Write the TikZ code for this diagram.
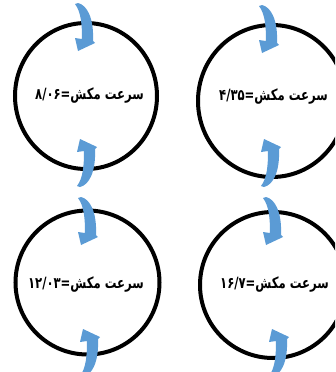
\documentclass[tikz,border=0pt]{standalone}
\usepackage{fontspec}
\newfontfamily\arabicfont[Script=Arabic]{DejaVu Sans}
\TeXXeTstate=1
\definecolor{arrowblue}{RGB}{91,155,213}
\tikzset{
  ring/.style={draw=black, line width=4pt},
  label/.style={font=\arabicfont\bfseries\fontsize{15.5}{17}\selectfont, inner sep=0pt, anchor=east, xscale=0.75, transform shape},
  curvarrow/.pic={
    \fill[arrowblue] (0,0) .. controls (6,8) and (7,20) .. (7,35) -- (0,34) -- (3,47)
      -- (20,39) -- (18,37) .. controls (19,14) and (12,1) .. (3,-1) -- cycle;
  }
}
\begin{document}
\begin{tikzpicture}[x=1pt,y=-1pt]
\useasboundingbox (0,0) rectangle (335,372);
\clip (0,0) rectangle (335,372);
% circles
\draw[ring] (86,96) ellipse [x radius=71, y radius=73];
\draw[ring] (272,101) ellipse [x radius=74, y radius=76];
\draw[ring] (87.5,282.5) ellipse [x radius=72, y radius=72];
\draw[ring] (273,285) ellipse [x radius=73, y radius=73];
% arrows
\pic at (75,4) {curvarrow};
\pic[yscale=-1] at (77,186) {curvarrow};
\pic at (259,6) {curvarrow};
\pic[yscale=-1] at (261,186) {curvarrow};
\pic at (78,198) {curvarrow};
\pic[yscale=-1] at (80,376) {curvarrow};
\pic at (263,198) {curvarrow};
\pic[yscale=-1] at (269,376) {curvarrow};
% texts
\node[label] (t1) at (144,96) {\beginR سرعت مکش=\beginL ۸/۰۶\endL\endR};
\node[label] (t2) at (328,97) {\beginR سرعت مکش=\beginL ۴/۳۵\endL\endR};
\node[label] (t3) at (144,285) {\beginR سرعت مکش=\beginL ۱۲/۰۳\endL\endR};
\node[label] (t4) at (329,285) {\beginR سرعت مکش=\beginL ۱۶/۷\endL\endR};
\end{tikzpicture}
\end{document}
